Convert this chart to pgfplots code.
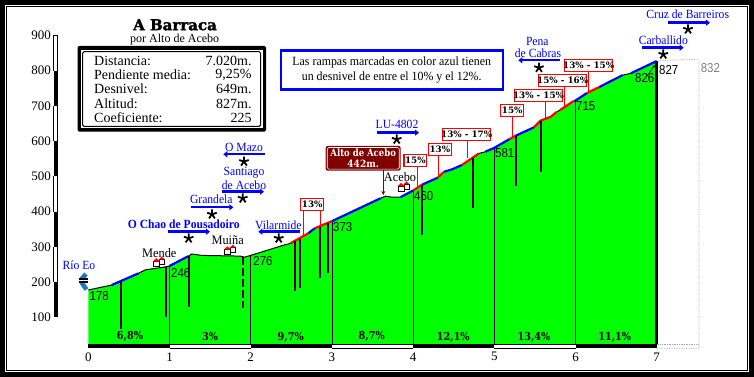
\documentclass[border=0pt]{standalone}
\usepackage{pgfplots}
\pgfplotsset{compat=1.18}
\usepackage{fontspec}
\usetikzlibrary{arrows.meta}
\setmainfont{Liberation Serif}
\newfontfamily\thin{Liberation Sans}
\newfontfamily\heavy{DejaVu Serif}
\newfontfamily\titlef{DejaVu Serif}[BoldFeatures={FakeBold=2}]
\newcommand\fs[1]{\fontsize{#1}{#1}\selectfont}
\definecolor{darkred}{RGB}{128,0,0}
\definecolor{river}{RGB}{30,120,190}
\begin{document}
\begin{tikzpicture}[line cap=butt]
\begin{scope}[x=1pt,y=-1pt,xshift=-88.3pt,yshift=344.3pt]
  \fill[black] (0,0) rectangle (754,377);
  \fill[white] (5,5) rectangle (749,372);
  \fill[black] (6,6) rectangle (748,371);
  \fill[white] (7,7) rectangle (747,370);
\end{scope}
\begin{axis}[
  at={(0,0)},anchor=south west,
  scale only axis,width=568.4pt,height=309pt,
  xmin=0,xmax=7,ymin=24,ymax=900,clip=false,
  axis line style={draw=none},major tick style={draw=none},
  xtick={0,...,7},ytick={100,200,...,900},
  /pgf/number format/assume math mode=true,
  tick label style={font=\fs{13}},
  xticklabel style={anchor=center,yshift=-12.5pt},
  yticklabel style={anchor=east,xshift=-34pt},
]
% profile area
\addplot[draw=none,fill=green] coordinates {(0,24)(0,178)(0.288,192)(0.617,225)(0.70,235)(0.967,244)(1,246)(1.234,274)(1.275,280)(1.4,276)(1.871,274)(1.924,271)(2,276)(2.405,305)(2.488,310)(2.71,339)(2.79,353)(3,373)(3.6,438)(3.66,444)(3.74,441)(3.845,441)(4,460)(4.106,476)(4.30,496)(4.38,513)(4.48,520)(4.6,532)(4.81,565)(4.89,570)(5,581)(5.19,606)(5.26,615)(5.327,622)(5.488,639)(5.57,658)(5.695,669)(5.77,683)(5.81,688)(5.98,714)(6,715)(6.138,736)(6.29,753)(6.58,787)(6.68,792)(7,827)(7,24)} \closedcycle;
% grey 832 outline
\addplot[gray!70,densely dotted,line width=0.7pt] coordinates {(7,827)(7.21,830)(7.52,832)(7.52,12.7)(7,12.7)};
\addplot[gray!70,densely dotted,line width=0.7pt] coordinates {(7,24)(7.52,24)};
% km lines
\foreach \k/\v in {1/246,2/276,3/373,4/460,5/581,6/715}{
  \edef\tmp{\noexpand\addplot[black,line width=0.8pt] coordinates {(\k,24)(\k,\v)};}\tmp
}
\addplot[black,line width=3pt] coordinates {(7,24)(7,827)};
% profile edge
\addplot[black,line width=1pt] coordinates {(0,178)(0.288,192)(0.617,225)(0.70,235)(0.967,244)(1,246)(1.234,274)(1.275,280)(1.4,276)(1.871,274)(1.924,271)(2,276)(2.405,305)(2.488,310)};
\addplot[black,line width=1pt] coordinates {(3.6,438)(3.66,444)(3.74,441)(3.845,441)};
\addplot[black,line width=1pt] coordinates {(4.81,565)(4.89,570)};
\addplot[black,line width=1pt] coordinates {(5.77,683)(5.81,688)};
\addplot[black,line width=1pt] coordinates {(6.58,787)(6.68,792)};
% blue ramps
\pgfplotsset{ramp/.style={line width=2.2pt}}
\addplot[blue,ramp] coordinates {(0.288,192)(0.617,225)};
\addplot[blue,ramp] coordinates {(1,246)(1.234,274)};
\addplot[blue,ramp] coordinates {(2.71,339)(2.79,353)};
\addplot[blue,ramp] coordinates {(3,373)(3.6,438)};
\addplot[blue,ramp] coordinates {(3.845,441)(4,460)};
\addplot[blue,ramp] coordinates {(4.106,476)(4.30,496)};
\addplot[blue,ramp] coordinates {(4.38,513)(4.48,520)(4.6,532)};
\addplot[blue,ramp] coordinates {(4.89,570)(5,581)(5.19,606)};
\addplot[blue,ramp] coordinates {(5.26,615)(5.327,622)(5.488,639)};
\addplot[blue,ramp] coordinates {(5.98,714)(6,715)(6.138,736)};
\addplot[blue,ramp] coordinates {(6.29,753)(6.58,787)};
\addplot[blue,ramp] coordinates {(6.68,792)(7,827)};
% red ramps
\addplot[red,ramp] coordinates {(2.488,310)(2.71,339)};
\addplot[red,ramp] coordinates {(2.79,353)(3,373)};
\addplot[red,ramp] coordinates {(4,460)(4.106,476)};
\addplot[red,ramp] coordinates {(4.30,496)(4.38,513)};
\addplot[red,ramp] coordinates {(4.6,532)(4.81,565)};
\addplot[red,ramp] coordinates {(5.19,606)(5.26,615)};
\addplot[red,ramp] coordinates {(5.488,639)(5.57,658)(5.695,669)(5.77,683)};
\addplot[red,ramp] coordinates {(5.81,688)(5.98,714)};
\addplot[red,ramp] coordinates {(6.138,736)(6.29,753)};
% hanging bars
\pgfplotsset{hang/.style={black,line width=2pt}}
\addplot[hang] coordinates {(0.403,201)(0.403,66)};
\addplot[hang] coordinates {(0.958,243)(0.958,102)};
\addplot[hang] coordinates {(1.242,275)(1.242,131)};
\addplot[hang,dash pattern=on 8pt off 3pt] coordinates {(1.904,272)(1.904,126)};
\addplot[hang] coordinates {(2.55,316)(2.55,176)};
\addplot[hang] coordinates {(2.61,322)(2.61,184)};
\addplot[hang] coordinates {(2.858,356)(2.858,213)};
\addplot[hang] coordinates {(2.957,367)(2.957,227)};
\addplot[hang] coordinates {(4.104,476)(4.104,335)};
\addplot[hang] coordinates {(4.733,552)(4.733,411)};
\addplot[hang] coordinates {(5.263,615)(5.263,474)};
\addplot[hang] coordinates {(5.57,658)(5.57,513)};
% km bar
\addplot[black,line width=4pt] coordinates {(0,18.3)(1,18.3)};
\addplot[black,line width=4pt] coordinates {(2,18.3)(3,18.3)};
\addplot[black,line width=4pt] coordinates {(4,18.3)(5,18.3)};
\addplot[black,line width=4pt] coordinates {(6,18.3)(7,18.3)};
\addplot[black,line width=1pt] coordinates {(1,24)(2,24)};
\addplot[black,line width=1pt] coordinates {(3,24)(4,24)};
\addplot[black,line width=1pt] coordinates {(5,24)(6,24)};
\addplot[black,line width=1pt] coordinates {(1,12.7)(2,12.7)};
\addplot[black,line width=1pt] coordinates {(3,12.7)(4,12.7)};
\addplot[black,line width=1pt] coordinates {(5,12.7)(6,12.7)};
% altitude ruler
\addplot[black,line width=4pt] coordinates {(-0.4,800)(-0.4,700)};
\addplot[black,line width=4pt] coordinates {(-0.4,600)(-0.4,500)};
\addplot[black,line width=4pt] coordinates {(-0.4,400)(-0.4,300)};
\addplot[black,line width=4pt] coordinates {(-0.4,200)(-0.4,100)};
\addplot[black,line width=0.8pt] coordinates {(-0.425,800)(-0.425,900)(-0.375,900)(-0.375,800)};
\addplot[black,line width=0.8pt] coordinates {(-0.425,700)(-0.425,600)}; \addplot[black,line width=0.8pt] coordinates {(-0.375,700)(-0.375,600)};
\addplot[black,line width=0.8pt] coordinates {(-0.425,500)(-0.425,400)}; \addplot[black,line width=0.8pt] coordinates {(-0.375,500)(-0.375,400)};
\addplot[black,line width=0.8pt] coordinates {(-0.425,300)(-0.425,200)}; \addplot[black,line width=0.8pt] coordinates {(-0.375,300)(-0.375,200)};
% stars
\addplot[only marks,mark=star,mark size=5pt,mark options={black,line width=1.8pt}] coordinates {(1.917,542)(1.902,438)(1.523,392.5)(1.236,324.5)(2.345,324.5)(3.798,605)(5.55,808)(7.081,846)(7.386,917)};
\end{axis}
\begin{scope}[x=1pt,y=-1pt,xshift=-88.3pt,yshift=344.3pt]
  % titles
  \node[font=\titlef\bfseries\fs{15},inner sep=0] at (175,24.8) {A Barraca};
  \node[font=\fs{12},inner sep=0] at (174.7,39.4) {por Alto de Acebo};
  % info box
  \fill[black,rounded corners=1.5pt] (77.5,46) rectangle (266,131.7);
  \fill[white] (81,50) rectangle (262.5,128);
  \draw[black,line width=1pt,rounded corners=1.5pt] (82.7,51.7) rectangle (260.7,126.5);
  \foreach \a/\b/\y in {Distancia:/7.020m./61,Pendiente media:/9{,}25\%/75,Desnivel:/649m./89,Altitud:/827m./103.7,Coeficiente:/225/118}{
    \node[font=\fs{14},anchor=west,inner sep=0] at (94,\y) {\a};
    \node[font=\fs{14},anchor=east,inner sep=0] at (251.7,\y) {\b};
  }
  % note box
  \draw[blue,line width=2.2pt] (281,50.5) rectangle (503,89.5);
  \node[font=\fs{12.5},xscale=.95] at (391.7,62.7) {Las rampas marcadas en color azul tienen};
  \node[font=\fs{12.5},xscale=.95] at (391.7,77.3) {un desnivel de entre el 10\% y el 12\%.};
  % blue labels + arrows
  \tikzset{lk/.style={blue,font=\fs{12.5},inner sep=0,xscale=.93},ar/.style={blue,line width=2.4pt,-{Stealth[length=4pt,width=6pt,inset=0pt]}}}
  \node[lk] at (244,147.7) {O Mazo};
  \draw[ar] (265,154.3) -- (223.3,154.3);
  \node[lk] at (244,172.3) {Santiago};
  \node[lk] at (244,185) {de Acebo};
  \draw[ar] (221.7,191.7) -- (264,191.7);
  \node[lk] at (211.3,199.7) {Grandela};
  \draw[ar] (191,207.3) -- (233.3,207.3);
  \node[lk,font=\bfseries\fs{12.5},xscale=1] at (183.8,224.7) {O Chao de Pousadoiro};
  \draw[ar] (168.3,231.7) -- (210,231.7);
  \node[lk] at (278.3,225) {Vilarmide};
  \draw[ar] (300,231.7) -- (258.3,231.7);
  \node[lk] at (397,124.7) {LU-4802};
  \draw[ar] (376.7,132.7) -- (419,132.7);
  \node[lk] at (537.3,41.7) {Pena};
  \node[lk] at (538,53) {de Cabras};
  \draw[ar] (560,60.3) -- (518.3,60.3);
  \node[lk] at (663.3,40) {Carballido};
  \draw[ar] (642.3,47.7) -- (683.7,47.7);
  \node[lk] at (687.7,14.7) {Cruz de Barreiros};
  \draw[ar] (668,22.7) -- (710,22.7);
  \node[lk] at (79,265.7) {Río Eo};
  % river
  \draw[river,line width=4.5pt] (86,274) -- (81.5,279);
  \draw[river,line width=4.5pt] (81.5,282.5) -- (86.5,289.5);
  \draw[black,line width=1.2pt] (78.5,279) -- (88,279);
  \draw[black,line width=1.2pt] (78.5,282) -- (88,282);
  % village names
  \node[font=\fs{13},xscale=.95] at (159.3,252.7) {Mende};
  \node[font=\fs{13},xscale=.95] at (227.7,239.7) {Muiña};
  \node[font=\fs{13},xscale=.95] at (400,177.3) {Acebo};
  % houses
  \newcommand\house[2]{%
    \begin{scope}[shift={(#1,#2)}]
      \draw[black,fill=white,line width=0.7pt] (1,-3) rectangle (6,2);
      \fill[red] (0.5,-3) -- (3.5,-6) -- (6.5,-3) -- cycle;
      \draw[black,fill=white,line width=0.7pt] (-5,-1) rectangle (1.5,4);
      \fill[red] (-5.5,-1) -- (-2,-4.5) -- (1.8,-1) -- cycle;
    \end{scope}}
  \house{158.3}{262.7}
  \house{229.3}{250.7}
  \house{403}{187.3}
  % altitude labels
  \tikzset{al/.style={font=\thin\fs{13},anchor=west,inner sep=0,xscale=.88}}
  \node[al] at (89.5,295.7) {178};
  \node[al] at (171,272.7) {246};
  \node[al] at (253.3,261) {276};
  \node[al] at (333,226.7) {373};
  \node[al] at (414,196) {460};
  \node[al] at (495,153.3) {581};
  \node[al] at (576,106) {715};
  \node[al] at (635,77.7) {826};
  \node[al] at (659,70.3) {827};
  \node[al,text=gray] at (700.7,67.7) {832};
  \draw[black,line width=0.5pt,-{Stealth[length=3pt]}] (646,77) -- (655,65);
  % slope labels
  \tikzset{sl/.style={font=\heavy\bfseries\fs{11},xscale=.88}}
  \node[sl] at (130,336.7) {6,8\%};
  \node[sl] at (210,336.7) {3\%};
  \node[sl] at (290.7,337.5) {9,7\%};
  \node[sl] at (371.7,336.7) {8,7\%};
  \node[sl] at (453.3,337) {12,1\%};
  \node[sl] at (534,337.5) {13,4\%};
  \node[sl] at (614.7,337) {11,1\%};
  % red boxed labels
  \newcommand\rbox[6]{%
    \draw[red,line width=1pt] (#5,#4) -- (#5,#6);
    \draw[red,fill=white,line width=1.2pt] (#1,#3) rectangle (#2,#4);
    \node[font=\heavy\bfseries,inner sep=0] at ({(#1+#2)/2},{(#3+#4)/2}) {\fontsize{8.8}{8.8}\selectfont\rboxtext};}
  \newcommand\rl[7]{\def\rboxtext{#7}\rbox{#1}{#2}{#3}{#4}{#5}{#6}}
  \rl{300.7}{323.7}{198.3}{210.3}{303.3}{236.7}{13\%}
  \draw[red,line width=1pt] (320.3,210.3) -- (320.3,227.3);
  \rl{404}{426.7}{154.3}{166.3}{417.3}{186}{15\%}
  \rl{428.3}{451.3}{143.3}{155.3}{438.3}{175}{13\%}
  \rl{442.7}{490.7}{128.7}{140.7}{467.3}{158.3}{13\% - 17\%}
  \rl{500.7}{523.7}{104.7}{116.3}{512.3}{136.7}{15\%}
  \rl{514.3}{562.7}{89.3}{101.7}{545.7}{120}{13\% - 15\%}
  \rl{538.7}{586.7}{74.3}{86.3}{564}{106}{15\% - 16\%}
  \rl{564.7}{612.7}{59.7}{71.3}{588.3}{92.7}{13\% - 15\%}
  % Alto de Acebo
  \draw[darkred,line width=1pt,-{Stealth[length=4pt,width=4pt]}] (383.3,170) -- (383.3,195);
  \fill[darkred,rounded corners=2pt] (325.7,146) rectangle (400.7,170.7);
  \draw[white,line width=0.6pt,rounded corners=1.5pt] (327.2,147.5) rectangle (399.2,169.2);
  \node[font=\heavy\bfseries\fs{10},text=white,xscale=.85,inner sep=0] at (363.2,153.2) {Alto de Acebo};
  \node[font=\heavy\bfseries\fs{10},text=white,inner sep=0,xscale=.9] at (363.2,163.7) {442m.};
\end{scope}
\end{tikzpicture}
\end{document}
